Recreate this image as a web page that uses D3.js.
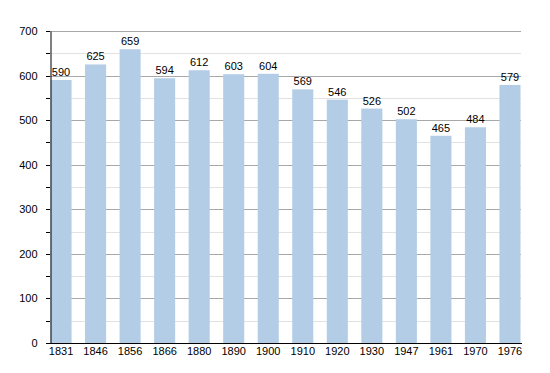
<!DOCTYPE html>
<html>
<head>
<meta charset="utf-8">
<script src="https://d3js.org/d3.v7.min.js"></script>
<style>
  body { margin: 0; background: #fff; }
  text { font-family: "Liberation Sans", Arial, sans-serif; }
</style>
</head>
<body>
<div id="chart"></div>
<script>
const years = ["1831", "1846", "1856", "1866", "1880", "1890", "1900", "1910", "1920", "1930", "1947", "1961", "1970", "1976"];
const population = [590, 625, 659, 594, 612, 603, 604, 569, 546, 526, 502, 465, 484, 579];
const yTicks = [0, 100, 200, 300, 400, 500, 600, 700];
const yMinor = [50, 150, 250, 350, 450, 550, 650];

const width = 550, height = 373;
const plotLeft = 50, plotRight = 521, plotTop = 31, plotBottom = 343;

let svg = d3.select("#chart")
  .append("svg")
    .attr("width", width)
    .attr("height", height);

let x = d3.scaleBand()
  .domain(years)
  .range([plotLeft + 0.5, plotRight - 0.5])
  .paddingInner(0.39)
  .paddingOuter(0);

let y = d3.scaleLinear()
  .domain([0, 700])
  .range([plotBottom, plotTop]);

// minor grid
svg.append("g").selectAll("line")
  .data(yMinor)
  .enter().append("line")
    .attr("x1", plotLeft)
    .attr("x2", plotRight)
    .attr("y1", d => Math.round(y(d)) + 0.5)
    .attr("y2", d => Math.round(y(d)) + 0.5)
    .attr("stroke", "#e2e2e2");

// major grid
svg.append("g").selectAll("line")
  .data(yTicks.slice(1))
  .enter().append("line")
    .attr("x1", plotLeft)
    .attr("x2", plotRight)
    .attr("y1", d => Math.round(y(d)) + 0.5)
    .attr("y2", d => Math.round(y(d)) + 0.5)
    .attr("stroke", "#a8a8a8");

svg.append("g").selectAll("rect")
  .data(population)
  .enter().append("rect")
    .attr("x", (d, i) => x(years[i]))
    .attr("y", d => y(d))
    .attr("width", x.bandwidth())
    .attr("height", d => y(0) - y(d))
    .attr("fill", "#b3cde6");

svg.append("g").selectAll("text")
  .data(population)
  .enter().append("text")
    .attr("x", (d, i) => x(years[i]) + x.bandwidth() / 2)
    .attr("y", d => y(d) - 4)
    .attr("text-anchor", "middle")
    .style("font-size", "11px")
    .style("fill", "#000")
    .text(d => d);

// y axis
let yAxis = d3.axisLeft(y)
  .tickValues(yTicks)
  .tickSize(0)
  .tickPadding(13);

let gy = svg.append("g")
  .attr("transform", "translate(" + (plotLeft + 0.5) + ",0)")
  .call(yAxis);
gy.select(".domain").attr("stroke", "#000");
gy.selectAll("text").style("font-size", "11px").style("font-family", "Liberation Sans, Arial, sans-serif");

svg.append("g").selectAll("line")
  .data(yTicks.concat(yMinor))
  .enter().append("line")
    .attr("x1", plotLeft - 4)
    .attr("x2", plotLeft)
    .attr("y1", d => Math.round(y(d)) + 0.5)
    .attr("y2", d => Math.round(y(d)) + 0.5)
    .attr("stroke", "#000");

// x axis
let xAxis = d3.axisBottom(x)
  .tickSize(0)
  .tickPadding(4);

let gx = svg.append("g")
  .attr("transform", "translate(0," + (plotBottom + 0.5) + ")")
  .call(xAxis);
gx.select(".domain").attr("stroke", "#000").attr("d", "M" + plotLeft + ",0H" + (plotRight + 1));
gx.selectAll("text").style("font-size", "11px").style("font-family", "Liberation Sans, Arial, sans-serif");
</script>
</body>
</html>
